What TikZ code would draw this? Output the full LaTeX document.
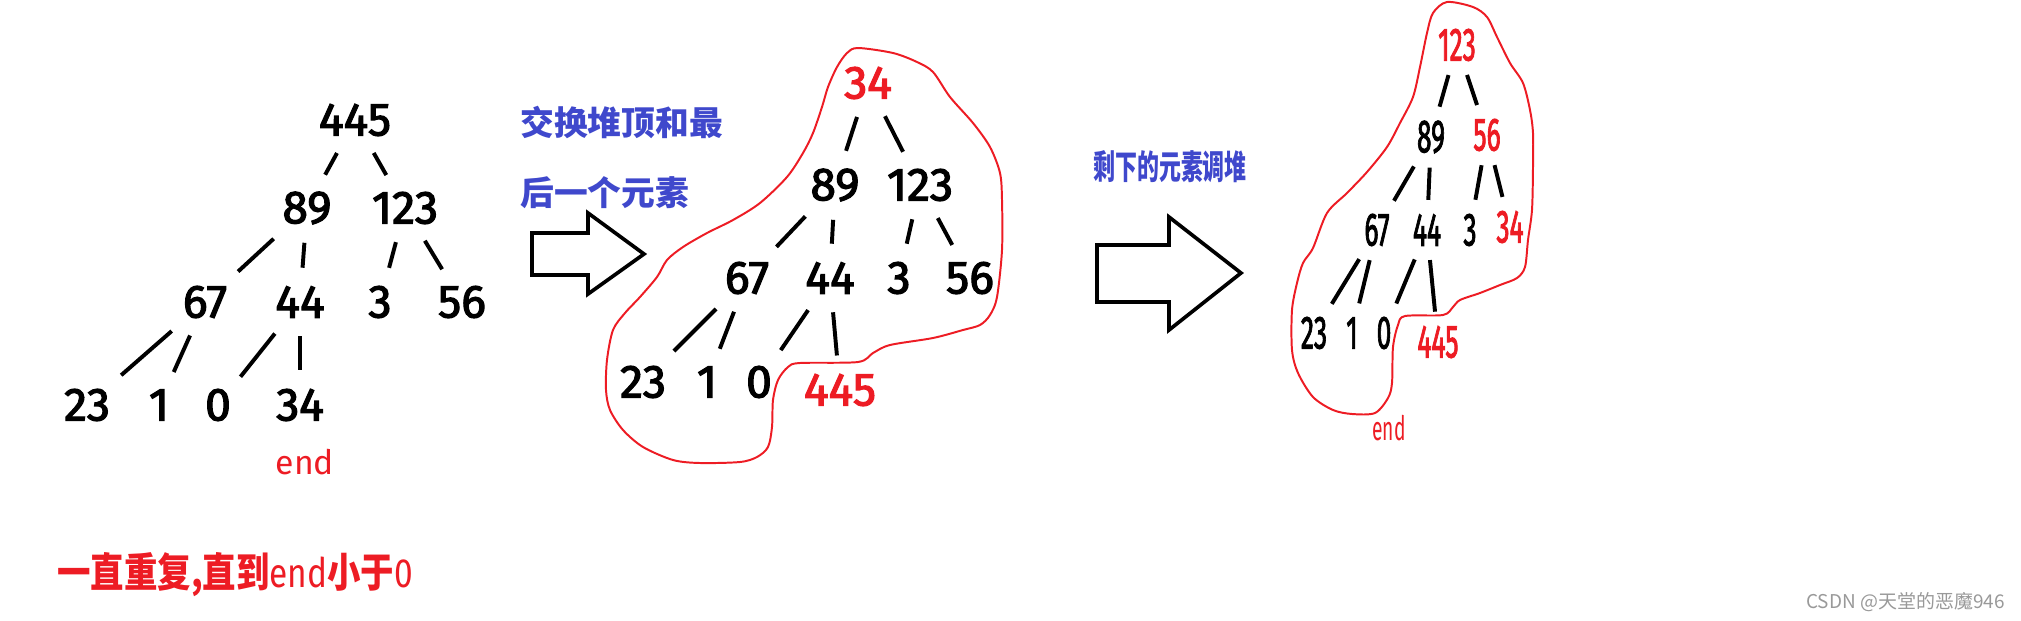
\documentclass[tikz,border=0pt]{standalone}
\usepackage{fontspec}
\usepackage{graphicx}
\setmainfont{Fira Sans}
\newfontfamily\numfont{Fira Sans}[FakeBold=2.5]
\newfontfamily\cjk{Noto Sans CJK SC}
\definecolor{paintred}{HTML}{ED1C24}
\definecolor{paintblue}{HTML}{3F48CC}
\newcommand{\thin}[1]{\scalebox{0.57}[1]{#1}}
\tikzset{
  num/.style={font=\numfont\fontsize{33}{33}\selectfont, inner xsep=1pt, inner ysep=4pt},
  hot/.style={num, text=paintred},
  link/.style={line width=2.8pt, shorten <=9pt, shorten >=9pt},
  blob/.style={draw=paintred, line width=1.4pt},
  fat/.style={draw, line width=2.6pt, line join=miter},
  note/.style={font=\cjk\bfseries\fontsize{24}{24}\selectfont, text=paintblue, inner sep=0pt, anchor=west},
  endtag/.style={font=\fontsize{24}{24}\selectfont, text=paintred, inner sep=0pt},
}
\begin{document}
\begin{tikzpicture}[x=0.025cm, y=-0.025cm]
  \useasboundingbox (0,0) rectangle (2021,620);
  % heap before the swap
  \foreach \v/\x/\y in {445/355/120, 89/307/208, 123/405/208, 67/205/302, 44/300/302, 3/380/302, 56/462/302, 23/87/405, 1/159/405, 0/218/405, 34/300/405}
    \node[num] (A\v) at (\x,\y) {\v};
  \foreach \p/\c in {445/89, 445/123, 89/67, 89/44, 123/3, 123/56, 67/23, 67/1, 44/0, 44/34}
    \draw[link] (A\p) -- (A\c);
  \node[endtag] (endA) at (305,462) {end};

  % first arrow and its note
  \node[note] (swap1) at (520,122) {交换堆顶和最};
  \node[note] (swap2) at (520,193) {后一个元素};
  \draw[fat] (532,233) -- (588,233) -- (588,213) -- (644,254) -- (588,294) -- (588,275) -- (532,275) -- cycle;

  % heap after the swap
  \draw[blob] plot[smooth cycle, tension=0.5] coordinates {(858,48) (893,53) (917,62) (933,72) (950,97) (973,123) (990,147) (1000,173) (1002,200) (1002,250) (997,297) (990,315) (980,325) (963,330) (933,338) (890,345) (873,353) (858,362) (800,363) (788,367) (778,380) (773,400) (772,427) (768,447) (757,457) (740,462) (700,463) (673,460) (643,447) (623,430) (610,410) (606,390) (607,360) (613,330) (625,313) (640,297) (657,277) (667,260) (683,247) (707,233) (733,220) (760,203) (787,177) (803,153) (813,133) (822,107) (828,87) (837,67) (847,53)};
  \foreach \v/\x/\y in {89/835/185, 123/920/185, 67/747/278, 44/830/278, 3/899/278, 56/970/278, 23/643/382, 1/707/382, 0/759/382}
    \node[num] (B\v) at (\x,\y) {\v};
  \node[hot] (B34) at (868,83) {34};
  \node[hot] (B445) at (840,390) {445};
  \foreach \p/\c in {34/89, 34/123, 89/67, 89/44, 123/3, 123/56, 67/23, 67/1, 44/0, 44/445}
    \draw[link] (B\p) -- (B\c);

  % second arrow and its note
  \node[note] (heapify) at (1093,167) {\scalebox{0.65}[1]{剩下的元素调堆}};
  \draw[fat] (1097,245) -- (1169,245) -- (1169,217) -- (1241,273) -- (1169,330) -- (1169,302) -- (1097,302) -- cycle;

  % heap after sifting down
  \draw[blob] plot[smooth cycle, tension=0.5] coordinates {(1447,2) (1473,7) (1487,17) (1497,37) (1510,63) (1523,83) (1530,110) (1533,133) (1533,167) (1532,210) (1528,240) (1525,267) (1517,278) (1500,285) (1480,293) (1460,300) (1453,307) (1443,315) (1405,316) (1398,325) (1393,347) (1392,383) (1388,398) (1375,413) (1352,414) (1333,410) (1313,397) (1298,373) (1292,350) (1292,310) (1297,283) (1303,263) (1313,248) (1327,213) (1347,193) (1367,172) (1387,147) (1400,123) (1413,97) (1420,67) (1427,33) (1433,13)};
  \foreach \v/\x/\y in {89/1431/137, 67/1377/230, 44/1427/230, 3/1470/230, 23/1314/333, 1/1352/333, 0/1384/333}
    \node[num] (C\v) at (\x,\y) {\thin{\v}};
  \foreach \v/\x/\y in {123/1457/45, 56/1487/135, 34/1510/227, 445/1438/342}
    \node[hot] (C\v) at (\x,\y) {\thin{\v}};
  \foreach \p/\c in {123/89, 123/56, 89/67, 89/44, 56/3, 56/34, 67/23, 67/1, 44/0, 44/445}
    \draw[link, shorten <=6pt, shorten >=6pt] (C\p) -- (C\c);
  \node[endtag] (endC) at (1389,428) {\thin{end}};

  % bottom line and mark
  \node[font=\cjk\bfseries\fontsize{29}{29}\selectfont, text=paintred, inner sep=0pt, anchor=west] (repeat) at (57,575) {\scalebox{0.82}[1]{一直重复,直到{\rmfamily\mdseries end}小于{\rmfamily\mdseries 0}}};
  \node[font=\cjk\fontsize{13.5}{13.5}\selectfont, text=black!40, inner sep=0pt, anchor=east] (mark) at (2005,602) {CSDN @天堂的恶魔946};
\end{tikzpicture}
\end{document}
